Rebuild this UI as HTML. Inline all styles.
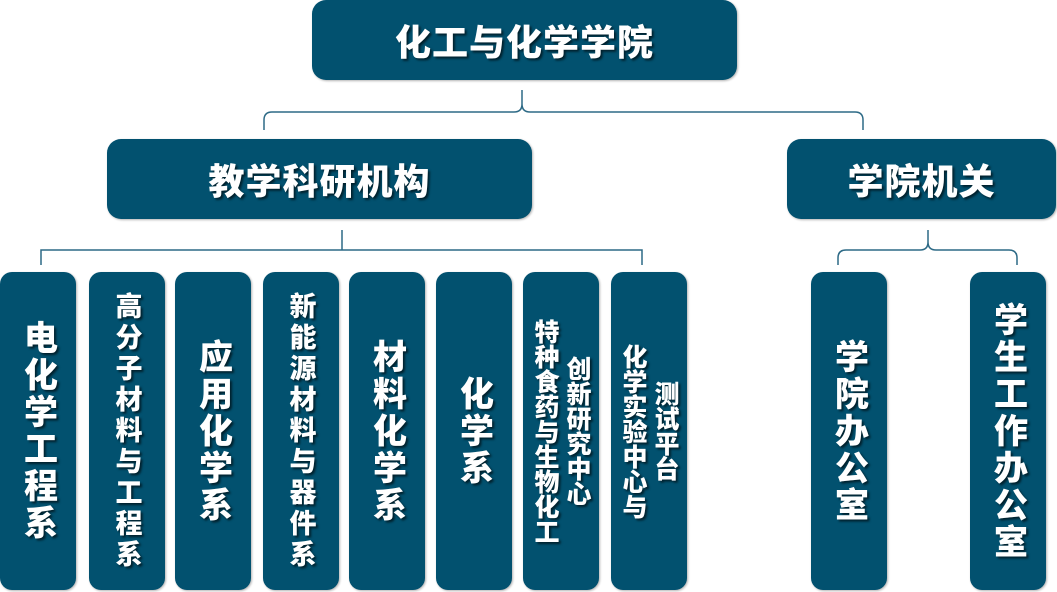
<!DOCTYPE html>
<html><head><meta charset="utf-8"><style>
body{margin:0;width:1057px;height:592px;background:#fff;position:relative;overflow:hidden;font-family:"Liberation Sans","Noto Sans CJK SC",sans-serif;}
.b{position:absolute;background:#02516f;border-radius:14px;color:#fff;font-weight:900;display:flex;align-items:center;justify-content:center;text-shadow:2px 2px 2px rgba(0,0,0,.6);box-shadow:1px 1px 2px rgba(0,0,0,.3);}
.h{font-size:36px;letter-spacing:1px;}
.v{top:272px;height:318px;width:76px;border-radius:12px;}
.v span{writing-mode:vertical-rl;text-orientation:upright;text-align:center;}
.f32{font-size:34px;letter-spacing:3px;}
.f26{font-size:27px;letter-spacing:4px;}
.f24{font-size:25px;line-height:32px;letter-spacing:0;}
</style></head><body>
<svg width="1057" height="592" style="position:absolute;left:0;top:0" fill="none" stroke="#2d6a86" stroke-width="1.5">
<path d="M522 90 V104 Q522 112 514 112 H272 Q264 112 264 120 V130 M522 104 Q522 112 530 112 H855 Q863 112 863 120 V130"/>
<path d="M342 230 V250 M41 265 V250 H642 V265"/>
<path d="M928 230 V242 Q928 250 920 250 H846 Q838 250 838 258 V265 M928 242 Q928 250 936 250 H1009 Q1017 250 1017 258 V265"/>
</svg>
<div class="b h" style="left:312px;top:0;width:425px;height:80px">化工与化学学院</div>
<div class="b h" style="left:107px;top:139px;width:425px;height:80px">教学科研机构</div>
<div class="b h" style="left:787px;top:139px;width:269px;height:80px">学院机关</div>
<div class="b v f32" style="left:0"><span>电化学工程系</span></div>
<div class="b v f26" style="left:89px"><span>高分子材料与工程系</span></div>
<div class="b v f32" style="left:175px"><span>应用化学系</span></div>
<div class="b v f26" style="left:263px"><span>新能源材料与器件系</span></div>
<div class="b v f32" style="left:349px"><span>材料化学系</span></div>
<div class="b v f32" style="left:436px"><span>化学系</span></div>
<div class="b v f24" style="left:523px"><span>创新研究中心<br>特种食药与生物化工</span></div>
<div class="b v f24" style="left:611px"><span>测试平台<br>化学实验中心与</span></div>
<div class="b v f32" style="left:811px"><span>学院办公室</span></div>
<div class="b v f32" style="left:970px"><span>学生工作办公室</span></div>
</body></html>
